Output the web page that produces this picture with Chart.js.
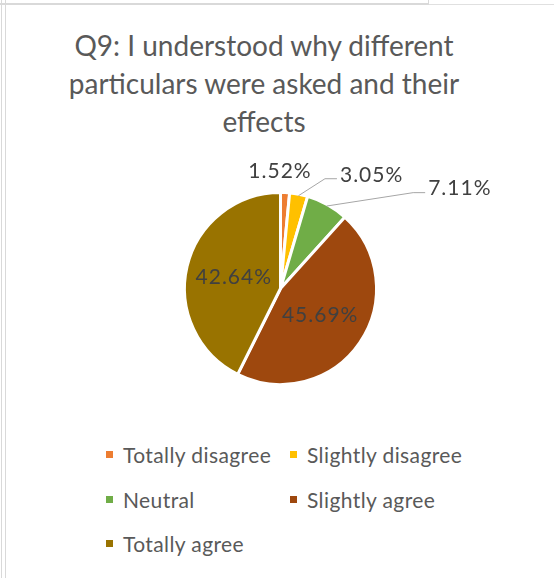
<!DOCTYPE html>
<html>
<head>
<meta charset="utf-8">
<script src="https://cdn.jsdelivr.net/npm/chart.js@4"></script>
<style>
  html, body { margin: 0; padding: 0; background: #fff; }
  body { width: 554px; height: 578px; position: relative; overflow: hidden; font-family: Lato, "Open Sans", sans-serif; }
  .rule { position: absolute; background: #d9d9d9; }
  #title { position: absolute; left: 6px; top: 26px; width: 516px; text-align: center;
           font-size: 28px; line-height: 38px; color: #595959; }
  #chart { position: absolute; left: 0; top: 0; }
  #legend { position: absolute; left: 106px; top: 432px; display: grid;
            grid-template-columns: 184px 200px; grid-auto-rows: 44.7px; }
  .item { display: flex; align-items: center; font-size: 21px; letter-spacing: 0.4px; color: #595959; white-space: nowrap; }
  .swatch { width: 7px; height: 7px; margin-right: 10px; flex: none; }
</style>
</head>
<body>
<div class="rule" style="left:1px;top:0;width:1px;height:578px"></div>
<div class="rule" style="left:5px;top:0;width:1px;height:578px"></div>
<div class="rule" style="left:0;top:3px;width:429px;height:2px"></div>
<div class="rule" style="left:428px;top:0;width:1px;height:5px"></div>
<div class="rule" style="left:429px;top:4px;width:125px;height:1px;background:#e0e0e0"></div>

<div id="title"></div>
<canvas id="chart" width="554" height="420"></canvas>
<div id="legend"></div>

<script>
const titleLines = ['Q9: I understood why different', 'particulars were asked and their', 'effects'];
const categories = ['Totally disagree', 'Slightly disagree', 'Neutral', 'Slightly agree', 'Totally agree'];
const shares = [1.52, 3.05, 7.11, 45.69, 42.64];
const colours = ['#ED7D31', '#FFC000', '#70AD47', '#9E480E', '#997300'];

// Where each percentage goes: null = inside the slice at half radius,
// otherwise pixel offsets from the slice's outer edge for the leader elbow, its end and the text.
const callouts = [
  { text: [-5, -23], align: 'center' },
  { elbow: [26.5, -17], end: [38.5, -17], text: [41.5, -20.5], align: 'left' },
  { elbow: [86.5, -13.4], end: [98.5, -13.4], text: [101.5, -17.8], align: 'left' },
  null,
  null
];

const sliceBorder = 3;

document.getElementById('title').innerHTML = titleLines.join('<br>');

const sliceLabels = {
  id: 'sliceLabels',
  afterDatasetsDraw(chart) {
    const ctx = chart.ctx;
    const meta = chart.getDatasetMeta(0);
    ctx.save();
    ctx.font = '21px Lato, "Open Sans", sans-serif';
    ctx.letterSpacing = '1px';
    ctx.fillStyle = '#404040';
    ctx.textBaseline = 'middle';
    meta.data.forEach((arc, i) => {
      const p = arc.getProps(['x', 'y', 'startAngle', 'endAngle', 'outerRadius'], true);
      const mid = (p.startAngle + p.endAngle) / 2;
      const text = chart.data.datasets[0].data[i].toFixed(2) + '%';
      const c = callouts[i];
      if (!c) {
        const r = p.outerRadius * 0.5;
        ctx.textAlign = 'center';
        ctx.fillText(text, p.x + Math.cos(mid) * r, p.y + Math.sin(mid) * r);
        return;
      }
      const r = p.outerRadius - sliceBorder / 2;
      const ex = p.x + Math.cos(mid) * r;
      const ey = p.y + Math.sin(mid) * r;
      if (c.elbow) {
        ctx.beginPath();
        ctx.strokeStyle = '#a6a6a6';
        ctx.lineWidth = 1;
        ctx.moveTo(ex, ey);
        ctx.lineTo(ex + c.elbow[0], ey + c.elbow[1]);
        ctx.lineTo(ex + c.end[0], ey + c.end[1]);
        ctx.stroke();
      }
      ctx.textAlign = c.align;
      ctx.fillText(text, ex + c.text[0], ey + c.text[1]);
    });
    ctx.restore();
  }
};

const chart = new Chart(document.getElementById('chart'), {
  type: 'pie',
  data: {
    labels: categories,
    datasets: [{
      data: shares,
      backgroundColor: colours,
      borderColor: '#ffffff',
      borderWidth: sliceBorder
    }]
  },
  options: {
    responsive: false,
    animation: false,
    events: [],
    layout: { padding: { top: 191, bottom: 34, left: 150, right: 143 } },
    plugins: {
      legend: { display: false },
      tooltip: { enabled: false },
      title: { display: false }
    }
  },
  plugins: [sliceLabels]
});

// Legend laid out in two columns, built from the chart's own legend items
const legendEl = document.getElementById('legend');
Chart.overrides.pie.plugins.legend.labels.generateLabels(chart).forEach(item => {
  const row = document.createElement('div');
  row.className = 'item';
  const sw = document.createElement('span');
  sw.className = 'swatch';
  sw.style.background = item.fillStyle;
  row.appendChild(sw);
  row.appendChild(document.createTextNode(item.text));
  legendEl.appendChild(row);
});
</script>
</body>
</html>
